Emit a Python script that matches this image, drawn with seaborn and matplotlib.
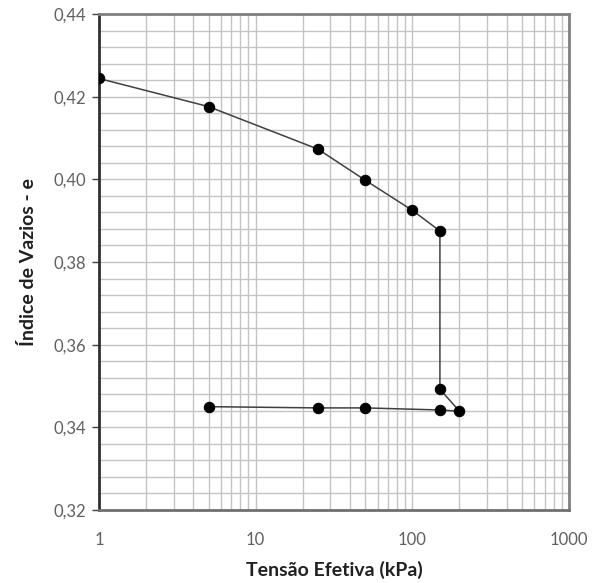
import matplotlib
matplotlib.use("Agg")
import matplotlib.pyplot as plt
import matplotlib.ticker as mticker
import seaborn as sns
import pandas as pd

tensao = [1, 5, 25, 50, 100, 150, 150, 200, 150, 50, 25, 5]
indice = [0.4244, 0.4176, 0.4073, 0.3998, 0.3925, 0.3875,
          0.3492, 0.3439, 0.3442, 0.3447, 0.3447, 0.3450]
xlabel = "Tensão Efetiva (kPa)"
ylabel = "Índice de Vazios - e"
yticks = [0.32, 0.34, 0.36, 0.38, 0.40, 0.42, 0.44]
xticks = [1, 10, 100, 1000]

df = pd.DataFrame({"x": tensao, "y": indice, "order": range(len(tensao))})

sns.set_style("white")
plt.rcParams['font.family'] = ['Lato', 'DejaVu Sans']

fig = plt.figure(figsize=(5.92, 5.83), dpi=100)
ax = fig.add_axes([99/592, 1 - 510/583, 470/592, 496/583])

ax.set_xscale("log")
ax.set_xlim(1, 1000)
ax.set_ylim(0.32, 0.44)

sns.lineplot(data=df, x="x", y="y", sort=False, estimator=None, ax=ax,
             color="#404040", linewidth=1.1, marker="o", markersize=7.5,
             markerfacecolor="black", markeredgecolor="black", zorder=3)

ax.set_yticks(yticks)
ax.yaxis.set_minor_locator(mticker.MultipleLocator(0.004))
ax.set_xticks(xticks)
ax.xaxis.set_minor_locator(mticker.LogLocator(base=10, subs=range(2, 10), numticks=20))
ax.xaxis.set_minor_formatter(mticker.NullFormatter())
ax.xaxis.set_major_formatter(mticker.FuncFormatter(lambda v, p: f"{v:g}"))
ax.yaxis.set_major_formatter(mticker.FuncFormatter(lambda v, p: f"{v:.2f}".replace(".", ",")))

ax.grid(True, which="both", color="#c4c4c4", linewidth=1.0)
ax.set_axisbelow(True)

ax.tick_params(axis="y", which="major", direction="out", length=5, width=1,
               color="#404040", labelcolor="#606060", labelsize=12, pad=4, left=True)
ax.tick_params(axis="y", which="minor", length=0)
ax.tick_params(axis="x", which="both", length=0, labelcolor="#606060", labelsize=12, pad=16)

for side in ["top", "right"]:
    ax.spines[side].set_color("#808080")
    ax.spines[side].set_linewidth(2)
ax.spines["left"].set_color("#303030")
ax.spines["left"].set_linewidth(2)
ax.spines["bottom"].set_color("#707070")
ax.spines["bottom"].set_linewidth(2)

ax.set_xlabel(xlabel, fontsize=14, fontweight="bold", color="#202020", labelpad=9)
ax.set_ylabel(ylabel, fontsize=14, fontweight="bold", color="#202020", labelpad=12)

fig.savefig("out.png", dpi=100)
